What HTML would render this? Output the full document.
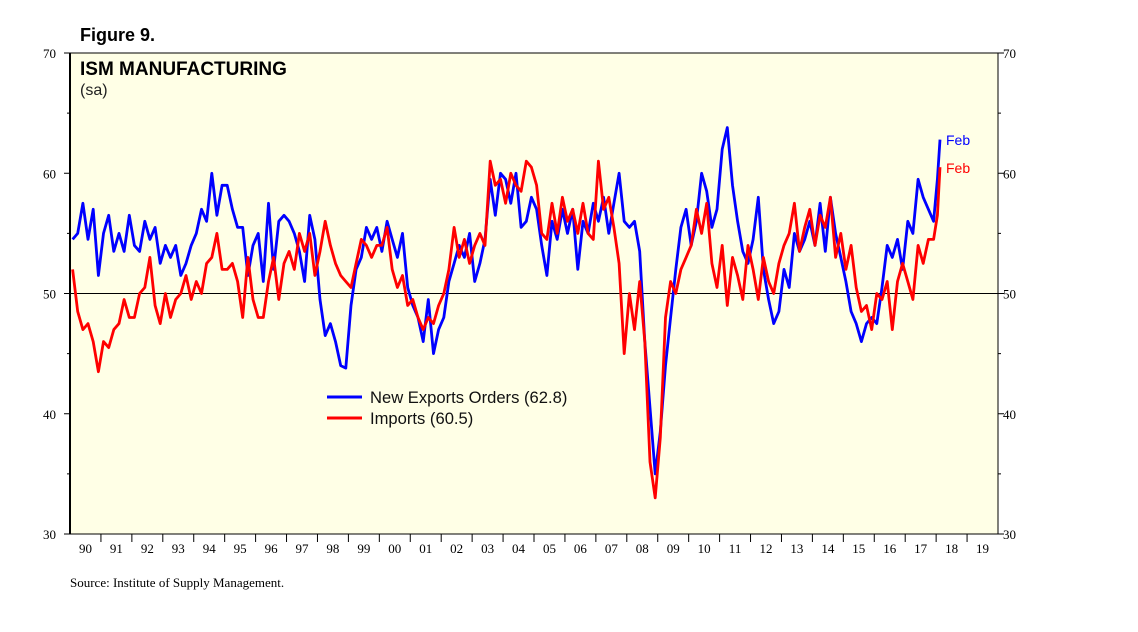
<!DOCTYPE html>
<html><head><meta charset="utf-8">
<style>
body{margin:0;background:#fff;width:1138px;height:627px;overflow:hidden;font-family:"Liberation Sans",sans-serif;}
</style></head>
<body>
<svg id="chart" width="1138" height="627" xmlns="http://www.w3.org/2000/svg" font-family="Liberation Sans, sans-serif">
<text x="80" y="41" font-size="18" font-weight="bold">Figure 9.</text>
<rect x="70" y="53" width="928" height="481" fill="#FFFFE6" stroke="#000" stroke-width="1"/>
<line x1="70" y1="53" x2="70" y2="534" stroke="#000" stroke-width="2"/>
<text x="80" y="75" font-size="19" font-weight="bold">ISM MANUFACTURING</text>
<text x="80" y="95" font-size="16" fill="#222">(sa)</text>
<g id="axes"></g>
<g id="series"></g>
<line x1="327" y1="397" x2="362" y2="397" stroke="#0000FF" stroke-width="3"/>
<text x="370" y="403" font-size="16.6" fill="#111">New Exports Orders (62.8)</text>
<line x1="327" y1="418" x2="362" y2="418" stroke="#FF0000" stroke-width="3"/>
<text x="370" y="424" font-size="16.6" fill="#111">Imports (60.5)</text>
<text x="946" y="145" font-size="14" fill="#0000FF">Feb</text>
<text x="946" y="173" font-size="14" fill="#FF0000">Feb</text>
<text x="70" y="587" font-size="13" font-family="Liberation Serif, serif">Source: Institute of Supply Management.</text>
</svg>
<script>
const yearLabels=["90","91","92","93","94","95","96","97","98","99","00","01","02","03","04","05","06","07","08","09","10","11","12","13","14","15","16","17","18","19"];
const yTicks=[30,40,50,60,70];
const exportsVals=[54.5,55,57.5,54.5,57,51.5, 55,56.5,53.5,55,53.5,56.5, 54,53.5,56,54.5,55.5,52.5, 54,53,54,51.5,52.5,54, 55,57,56,60,56.5,59, 59,57,55.5,55.5,51.5,54, 55,51,57.5,52,56,56.5, 56,55,53.5,51,56.5,54.5, 49.5,46.5,47.5,46,44,43.8, 49,52,53,55.5,54.5,55.5, 53.5,56,54.5,53,55,50.5, 49,48,46,49.5,45,47, 48,51,52.5,54,53,55, 51,52.5,54.5,59.5,56.5,60, 59.5,57.5,60,55.5,56,58, 57,54,51.5,56,54.5,57, 55,57,52,56,55,57.5, 56,58,55,57.5,60,56, 55.5,56,53.5,46,40.5,35, 38.5,44,48,52,55.5,57, 54,56,60,58.5,55.5,57, 62,63.8,59,56,53.5,52.5, 54.5,58,52,49.5,47.5,48.5, 52,50.5,55,53.5,54.5,56, 54,57.5,53.5,58,55,53, 51,48.5,47.5,46,47.5,48, 47.5,50.5,54,53,54.5,52, 56,55,59.5,58,57,56, 59.5,62.8];
const importsVals=[52,48.5,47,47.5,46,43.5, 46,45.5,47,47.5,49.5,48, 48,50,50.5,53,49,47.5, 50,48,49.5,50,51.5,49.5, 51,50,52.5,53,55,52, 52,52.5,51,48,53,49.5, 48,48,51,53,49.5,52.5, 53.5,52,55,53.5,55,51.5, 53.5,56,54,52.5,51.5,51, 50.5,52.5,54.5,54,53,54, 54,55.5,52,50.5,51.5,49, 49.5,48,47,48,47.5,49, 50,52,55.5,53,54.5,52.5, 54,55,54,61,59,59.5, 57.5,60,59,58.5,61,60.5, 59,55,54.5,57.5,55,58, 56,57,55,57.5,55,54.5, 61,57,58,55.5,52.5,45, 50,47,51,46,36,33, 38,48,51,50,52,53, 54,57,55,57.5,52.5,50.5, 54,49,53,51.5,49.5,54, 52,49.5,53,51,50,52.5, 54,55,57.5,53.5,55.5,57, 54,56.5,55.5,58,53,55, 52,54,50.5,48.5,49,47, 50,49.5,51,47,51,52.5, 51,49.5,54,52.5,54.5,54.5, 56.5,60.5];
const NS="http://www.w3.org/2000/svg";
const X0=70,X1=998,Y0=534,Y1=53,yMin=30,yMax=70,nYears=30;
const yw=(X1-X0)/nYears;
function xPos(t){return X0+t*yw;}
function yPos(v){return Y0-(v-yMin)/(yMax-yMin)*(Y0-Y1);}
const axes=document.getElementById('axes');
function mk(tag,attrs,parent){const e=document.createElementNS(NS,tag);for(const k in attrs)e.setAttribute(k,attrs[k]);parent.appendChild(e);return e;}
yTicks.forEach(v=>{
  const y=yPos(v);
  const l=mk('text',{x:X0-14,y:y+5,'font-size':13,'text-anchor':'end','font-family':'Liberation Serif, serif'},axes);
  l.textContent=v;
  
  
  const r=mk('text',{x:X1+5,y:y+5,'font-size':13,'font-family':'Liberation Serif, serif'},axes);
  r.textContent=v;
  
  
  mk('line',{x1:X0-6,y1:y,x2:X0,y2:y,stroke:'#000'},axes);
  mk('line',{x1:X1,y1:y,x2:X1+6,y2:y,stroke:'#000'},axes);
  if(v<yMax){const ym=yPos(v+5);mk('line',{x1:X0-3,y1:ym,x2:X0,y2:ym,stroke:'#000'},axes);mk('line',{x1:X1,y1:ym,x2:X1+3,y2:ym,stroke:'#000'},axes);}
});
const ref=mk('line',{x1:X0,y1:yPos(50),x2:X1,y2:yPos(50),stroke:'#000','stroke-width':1},axes);


yearLabels.forEach((lab,i)=>{
  if(i>0)mk('line',{x1:xPos(i),y1:Y0,x2:xPos(i),y2:Y0+8,stroke:'#000'},axes);
  const t=mk('text',{x:xPos(i+0.5),y:Y0+19,'font-size':13,'text-anchor':'middle','font-family':'Liberation Serif, serif'},axes);
  t.textContent=lab;
  
  
});
const ser=document.getElementById('series');
function drawLine(vals,color,name){
  const pts=vals.map((v,i)=>{const t=(i<168)?(i/6+1/12):(28+(i-168+0.5)/12);return xPos(t).toFixed(1)+','+yPos(v).toFixed(1);}).join(' ');
  const p=mk('polyline',{points:pts,fill:'none',stroke:color,'stroke-width':2.8,'stroke-linejoin':'round'},ser);
  
  
}
drawLine(exportsVals,'#0000FF','exports-line');
drawLine(importsVals,'#FF0000','imports-line');
</script>
</body></html>
